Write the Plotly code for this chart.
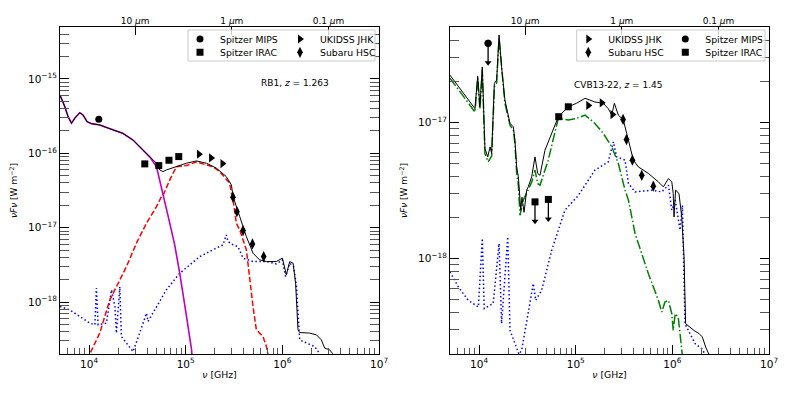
import math
import plotly.graph_objects as go

# ---------------- RB1, z = 1.263 (left panel) ----------------
rb1_total_nu = [5.0e3, 5.61e3, 6.07e3, 6.58e3, 7.11e3, 8.0e3, 8.67e3, 9.53e3, 1.06e4, 1.29e4,
                1.76e4, 2.23e4, 2.85e4, 3.34e4, 4.25e4, 4.98e4, 5.38e4, 5.82e4, 6.31e4, 7.34e4,
                8.67e4, 1.02e5, 1.29e5, 1.64e5, 2.08e5, 2.63e5, 2.97e5, 3.09e5, 3.62e5, 4.24e5,
                4.97e5, 5.82e5, 6.84e5, 8.67e5, 1.0e6, 1.10e6, 1.19e6, 1.29e6, 1.37e6, 1.45e6,
                1.51e6, 1.91e6, 2.25e6, 2.53e6, 2.74e6, 3.08e6, 3.33e6]
rb1_total = [6.09e-16, 4.25e-16, 3.11e-16, 2.54e-16, 2.96e-16, 3.52e-16, 3.28e-16, 2.67e-16, 2.51e-16, 2.41e-16,
             2.07e-16, 1.86e-16, 1.51e-16, 1.23e-16, 9.04e-17, 7.36e-17, 5.98e-17, 5.68e-17, 5.98e-17, 6.37e-17,
             6.98e-17, 7.36e-17, 7.91e-17, 7.36e-17, 6.31e-17, 4.86e-17, 3.76e-17, 2.62e-17, 1.41e-17, 7.59e-18,
             4.54e-18, 3.69e-18, 3.50e-18, 3.50e-18, 3.89e-18, 2.32e-18, 3.50e-18, 3.33e-18, 1.79e-18, 4.23e-19,
             3.89e-19, 3.82e-19, 3.62e-19, 3.10e-19, 2.40e-19, 2.28e-19, 2.01e-19]

rb1_dust_nu = [5.0e3, 5.61e3, 6.07e3, 6.58e3, 7.11e3, 8.0e3, 8.67e3, 9.53e3, 1.06e4, 1.29e4,
               1.76e4, 2.23e4, 2.85e4, 3.34e4, 4.25e4, 4.98e4, 5.38e4, 5.82e4, 6.84e4, 7.69e4,
               8.67e4, 1.02e5, 1.15e5, 1.18e5]
rb1_dust = [6.09e-16, 4.25e-16, 3.11e-16, 2.54e-16, 2.96e-16, 3.52e-16, 3.28e-16, 2.67e-16, 2.51e-16, 2.41e-16,
            2.07e-16, 1.86e-16, 1.51e-16, 1.23e-16, 8.9e-17, 6.62e-17, 4.39e-17, 2.76e-17, 1.15e-17, 5.87e-18,
            2.44e-18, 6.38e-19, 2.28e-19, 1.4e-19]

rb1_star_nu = [9.7e3, 1.02e4, 1.29e4, 1.64e4, 2.44e4, 3.09e4, 3.93e4, 4.98e4, 5.61e4, 5.82e4,
               6.84e4, 8.02e4, 1.02e5, 1.29e5, 1.64e5, 1.91e5, 2.25e5, 2.63e5, 2.85e5, 2.97e5,
               3.09e5, 3.34e5, 3.62e5, 4.24e5, 4.59e5, 4.97e5, 5.38e5, 6.30e5, 6.84e5, 7.10e5, 7.4e5]
rb1_star = [1.67e-19, 2.01e-19, 3.82e-19, 1.07e-18, 3.00e-18, 6.19e-18, 1.15e-17, 1.92e-17, 2.62e-17, 2.7e-17,
            4.39e-17, 6.62e-17, 6.84e-17, 7.66e-17, 6.98e-17, 6.62e-17, 5.68e-17, 4.39e-17, 3.96e-17, 2.91e-17,
            2.37e-17, 1.15e-17, 9.33e-18, 5.04e-18, 1.99e-18, 8.71e-19, 4.23e-19, 3.44e-19, 2.52e-19, 2.01e-19, 1.45e-19]

rb1_agn_nu = [5.0e3, 6.31e3, 8.02e3, 1.02e4, 1.15e4, 1.19e4, 1.24e4, 1.51e4, 1.71e4, 1.85e4,
              1.92e4, 2.08e4, 2.16e4, 2.44e4, 2.85e4, 3.34e4, 3.93e4, 4.07e4, 4.98e4, 6.31e4,
              8.67e4, 1.40e5, 1.91e5, 2.43e5, 2.63e5, 2.74e5, 3.09e5, 3.47e5, 3.92e5, 4.97e5,
              6.84e5, 8.67e5, 1.0e6, 1.08e6, 1.19e6, 1.31e6, 1.40e6, 1.51e6, 1.77e6, 2.16e6,
              2.43e6, 2.55e6]
rb1_agn = [8.71e-19, 7.85e-19, 6.38e-19, 5.20e-19, 4.94e-19, 1.54e-18, 4.94e-19, 5.20e-19, 1.46e-18, 8.71e-19,
           3.82e-19, 1.61e-18, 3.44e-19, 2.81e-19, 2.16e-19, 3.82e-19, 7.10e-19, 5.47e-19, 8.71e-19, 1.46e-18,
           2.44e-18, 4.09e-18, 5.04e-18, 5.87e-18, 8.0e-18, 6.50e-18, 5.87e-18, 5.57e-18, 3.89e-18, 3.50e-18,
           3.50e-18, 3.26e-18, 3.69e-18, 2.20e-18, 3.33e-18, 3.0e-18, 1.61e-18, 3.10e-19, 2.81e-19, 2.52e-19,
           2.01e-19, 1.58e-19]

rb1_mips_nu = [1.26e4]
rb1_mips = [2.87e-16]
rb1_irac_nu = [3.77e4, 5.26e4, 6.71e4, 8.47e4]
rb1_irac = [7.21e-17, 6.84e-17, 8.07e-17, 9.04e-17]
rb1_ukidss_nu = [1.37e5, 1.83e5, 2.40e5]
rb1_ukidss = [9.73e-17, 8.67e-17, 7.28e-17]
rb1_hsc_nu = [3.08e5, 3.39e5, 3.92e5, 4.90e5, 6.41e5]
rb1_hsc = [2.57e-17, 1.64e-17, 9.14e-18, 6.05e-18, 4.09e-18]

# ---------------- CVB13-22, z = 1.45 (right panel) ----------------
cvb_total_nu = [5.0e3, 9.07e3, 9.68e3, 1.02e4, 1.08e4, 1.15e4, 1.23e4, 1.30e4, 1.35e4, 1.44e4,
                1.52e4, 1.61e4, 1.71e4, 1.85e4, 2.09e4, 2.26e4, 2.35e4, 2.45e4, 2.55e4, 2.65e4,
                2.70e4, 2.78e4, 2.92e4, 3.11e4, 3.23e4, 3.50e4, 3.79e4, 4.04e4, 4.27e4, 4.81e4,
                5.64e4, 6.61e4, 8.38e4, 1.02e5, 1.25e5, 1.58e5, 1.93e5, 2.17e5, 2.36e5, 2.51e5,
                2.76e5, 3.11e5, 3.37e5, 3.65e5, 3.95e5, 4.45e5, 5.64e5, 7.16e5, 8.07e5, 9.10e5,
                9.86e5, 1.02e6, 1.04e6, 1.08e6, 1.17e6, 1.25e6, 1.32e6, 1.37e6, 1.49e6, 1.67e6,
                1.89e6, 2.04e6, 2.21e6, 2.39e6, 2.46e6]
cvb_total = [2.22e-17, 1.26e-17, 2.18e-17, 1.30e-17, 2.55e-17, 6.43e-18, 5.58e-18, 6.61e-18, 5.91e-18, 1.93e-17,
             2.04e-17, 4.37e-17, 2.55e-17, 1.46e-17, 9.82e-18, 9.27e-18, 7.40e-18, 4.71e-18, 3.98e-18, 2.69e-18,
             2.27e-18, 2.82e-18, 2.19e-18, 3.18e-18, 3.37e-18, 3.98e-18, 5.58e-18, 4.22e-18, 4.09e-18, 6.25e-18,
             8.29e-18, 1.10e-17, 1.30e-17, 1.38e-17, 1.50e-17, 1.41e-17, 1.38e-17, 1.26e-17, 1.13e-17, 1.38e-17,
             1.13e-17, 1.04e-17, 8.29e-18, 6.61e-18, 5.28e-18, 4.71e-18, 4.22e-18, 3.66e-18, 3.36e-18, 3.87e-18,
             3.66e-18, 3.01e-18, 2.02e-18, 3.18e-18, 3.01e-18, 2.02e-18, 1.03e-18, 3.34e-19, 3.16e-19, 2.98e-19,
             2.82e-19, 2.67e-19, 2.25e-19, 1.99e-19, 1.74e-19]

cvb_gal_nu = [5.0e3, 9.07e3, 9.68e3, 1.02e4, 1.08e4, 1.15e4, 1.24e4, 1.35e4, 1.44e4, 1.52e4,
              1.61e4, 1.71e4, 1.85e4, 2.09e4, 2.26e4, 2.35e4, 2.45e4, 2.55e4, 2.65e4, 2.87e4,
              3.11e4, 3.23e4, 3.50e4, 3.79e4, 4.04e4, 4.27e4, 5.20e4, 5.82e4, 6.61e4, 8.38e4,
              1.02e5, 1.25e5, 1.58e5, 1.93e5, 2.36e5, 2.76e5, 3.24e5, 3.51e5, 4.11e5, 5.64e5,
              7.16e5, 7.76e5, 8.39e5, 9.10e5, 9.86e5, 1.02e6, 1.07e6, 1.15e6, 1.20e6, 1.27e6, 1.30e6]
cvb_gal = [2.11e-17, 1.19e-17, 2.10e-17, 1.25e-17, 2.42e-17, 5.91e-18, 5.13e-18, 5.65e-18, 1.82e-17, 1.94e-17,
           4.13e-17, 2.42e-17, 1.38e-17, 9.54e-18, 8.77e-18, 7.04e-18, 4.22e-18, 3.46e-18, 2.08e-18, 2.69e-18,
           3.01e-18, 3.18e-18, 3.64e-18, 4.46e-18, 3.56e-18, 3.46e-18, 5.28e-18, 7.40e-18, 1.07e-17, 1.04e-17,
           1.07e-17, 1.13e-17, 9.82e-18, 8.29e-18, 6.61e-18, 4.99e-18, 3.18e-18, 2.69e-18, 1.53e-18, 7.78e-19,
           4.95e-19, 4.07e-19, 4.82e-19, 4.95e-19, 3.95e-19, 2.98e-19, 3.95e-19, 3.73e-19, 2.82e-19, 1.99e-19, 1.66e-19]

cvb_agn_nu = [5.0e3, 6.10e3, 7.73e3, 9.84e3, 1.08e4, 1.13e4, 1.40e4, 1.61e4, 1.71e4, 1.98e4,
              2.09e4, 2.35e4, 2.59e4, 2.76e4, 3.23e4, 3.64e4, 3.85e4, 4.44e4, 5.64e4, 7.73e4,
              1.06e5, 1.58e5, 2.17e5, 2.45e5, 2.65e5, 3.24e5, 3.51e5, 4.11e5, 6.12e5, 7.76e5,
              9.10e5, 9.86e5, 1.07e6, 1.20e6, 1.27e6, 1.35e6, 1.52e6, 1.72e6, 2.01e6, 2.18e6, 2.24e6]
cvb_agn = [8.0e-19, 6.21e-19, 4.95e-19, 4.42e-19, 1.41e-18, 4.31e-19, 4.69e-19, 1.29e-18, 3.34e-19, 1.45e-18,
           2.98e-19, 2.38e-19, 1.99e-19, 2.13e-19, 3.95e-19, 6.58e-19, 4.95e-19, 5.86e-19, 1.15e-18, 2.27e-18,
           2.9e-18, 4.46e-18, 5.13e-18, 7.19e-18, 5.58e-18, 5.28e-18, 3.56e-18, 3.09e-18, 3.18e-18, 3.09e-18,
           3.46e-18, 2.27e-18, 2.69e-18, 1.62e-18, 2.47e-18, 3.34e-19, 2.82e-19, 2.38e-19, 2.19e-19, 1.99e-19, 1.74e-19]

cvb_mips_nu = [1.24e4]          # upper limit
cvb_mips = [3.80e-17]
cvb_irac_ul_nu = [3.79e4, 5.21e4]   # upper limits
cvb_irac_ul = [2.61e-18, 2.72e-18]
cvb_irac_nu = [6.67e4, 8.38e4]
cvb_irac = [1.10e-17, 1.30e-17]
cvb_ukidss_nu = [1.35e5, 1.86e5, 2.40e5]
cvb_ukidss = [1.33e-17, 1.39e-17, 1.14e-17]
cvb_hsc_nu = [3.09e5, 3.35e5, 3.86e5, 4.82e5, 6.35e5]
cvb_hsc = [1.05e-17, 7.48e-18, 5.28e-18, 4.09e-18, 3.40e-18]

# tick labels
nu_ticks = [1e4, 1e5, 1e6, 1e7]
nu_tick_text = ["10<sup>4</sup>", "10<sup>5</sup>", "10<sup>6</sup>", "10<sup>7</sup>"]
flux_ticks = [1e-18, 1e-17, 1e-16, 1e-15]
flux_tick_text = ["10<sup>−18</sup>", "10<sup>−17</sup>", "10<sup>−16</sup>", "10<sup>−15</sup>"]
# top axis: wavelength marks (nu = c / lambda)
wl_tick_nu = [3e4, 3e5, 3e6]
wl_tick_text = ["10 <i>μ</i>m", "1 <i>μ</i>m", "0.1 <i>μ</i>m"]

ARROW = 0.72  # length of upper-limit arrows (fraction of flux)
FONT = "DejaVu Sans"
DOTTED = "1.5px,2.5px"
DASHED = "5.5px,2.4px"
DASHDOT = "9.6px,2.4px,1.5px,2.4px"

fig = go.Figure()


def line(nu, val, color, dash, width, xa, ya):
    fig.add_trace(go.Scatter(x=nu, y=val, mode="lines", xaxis=xa, yaxis=ya,
                             line=dict(color=color, dash=dash, width=width),
                             showlegend=False, hoverinfo="skip"))


def points(nu, val, symbol, size, name, legend, xa, ya):
    fig.add_trace(go.Scatter(x=nu, y=val, mode="markers", xaxis=xa, yaxis=ya, name=name,
                             marker=dict(symbol=symbol, size=size, color="black"),
                             legend=legend))


def upper_limits(nu, val, symbol, size, xa, ya):
    tips = [v * ARROW for v in val]
    fig.add_trace(go.Scatter(x=nu, y=val, mode="markers", xaxis=xa, yaxis=ya,
                             marker=dict(symbol=symbol, size=size, color="black"),
                             error_y=dict(type="data", symmetric=False, array=[0] * len(val),
                                          arrayminus=[v - t for v, t in zip(val, tips)],
                                          width=0, thickness=1.3, color="black"),
                             showlegend=False))
    fig.add_trace(go.Scatter(x=nu, y=tips, mode="markers", xaxis=xa, yaxis=ya,
                             marker=dict(symbol="triangle-down", size=6, color="black"),
                             showlegend=False, hoverinfo="skip"))


# left panel
line(rb1_agn_nu, rb1_agn, "#0000ff", DOTTED, 1.5, "x", "y")
line(rb1_star_nu, rb1_star, "#ff0000", DASHED, 1.5, "x", "y")
line(rb1_dust_nu, rb1_dust, "#bf00bf", "solid", 1.6, "x", "y")
line(rb1_total_nu, rb1_total, "black", "solid", 1.0, "x", "y")
points(rb1_mips_nu, rb1_mips, "circle", 7, "Spitzer MIPS", "legend", "x", "y")
points(rb1_irac_nu, rb1_irac, "square", 7, "Spitzer IRAC", "legend2", "x", "y")
points(rb1_ukidss_nu, rb1_ukidss, "triangle-right", 8, "UKIDSS JHK", "legend", "x", "y")
points(rb1_hsc_nu, rb1_hsc, "diamond-tall", 8, "Subaru HSC", "legend2", "x", "y")

# right panel
line(cvb_agn_nu, cvb_agn, "#0000ff", DOTTED, 1.5, "x2", "y2")
line(cvb_gal_nu, cvb_gal, "#008000", DASHDOT, 1.5, "x2", "y2")
line(cvb_total_nu, cvb_total, "black", "solid", 1.0, "x2", "y2")
points(cvb_ukidss_nu, cvb_ukidss, "triangle-right", 8, "UKIDSS JHK", "legend3", "x2", "y2")
points(cvb_hsc_nu, cvb_hsc, "diamond-tall", 8, "Subaru HSC", "legend4", "x2", "y2")
points(cvb_mips_nu, cvb_mips, "circle", 7, "Spitzer MIPS", "legend3", "x2", "y2")
points(cvb_irac_nu, cvb_irac, "square", 7, "Spitzer IRAC", "legend4", "x2", "y2")
upper_limits(cvb_mips_nu, cvb_mips, "circle", 7, "x2", "y2")
upper_limits(cvb_irac_ul_nu, cvb_irac_ul, "square", 7, "x2", "y2")

# invisible traces so the top wavelength axes are drawn
fig.add_trace(go.Scatter(x=rb1_mips_nu, y=rb1_mips, xaxis="x3", yaxis="y", mode="markers",
                         marker=dict(opacity=0), showlegend=False, hoverinfo="skip"))
fig.add_trace(go.Scatter(x=cvb_mips_nu, y=cvb_mips, xaxis="x4", yaxis="y2", mode="markers",
                         marker=dict(opacity=0), showlegend=False, hoverinfo="skip"))

# log minor tick positions (2..9 within each decade)
minor_vals = [d * 10.0 ** e for e in range(-20, 8) for d in range(2, 10)]

xr = [math.log10(5000), 7]
common = dict(type="log", showgrid=False, zeroline=False, showline=True, linecolor="black",
              linewidth=1, ticks="inside", ticklen=9, tickcolor="black",
              tickfont=dict(size=10.5, color="black"), automargin=False,
              minor=dict(ticks="inside", ticklen=5.5, tickmode="array", tickvals=minor_vals,
                         tickcolor="#555", showgrid=False))
xcommon = dict(common, range=xr, mirror=True, tickmode="array", tickvals=nu_ticks, ticktext=nu_tick_text,
               title=dict(text="<i>ν</i> [GHz]", font=dict(size=9.3), standoff=2))
ycommon = dict(common, mirror="allticks", tickmode="array", tickvals=flux_ticks, ticktext=flux_tick_text,
               title=dict(text="<i>νFν</i> [W m<sup>−2</sup>]", font=dict(size=9), standoff=8))
top = dict(type="log", range=xr, side="top", showgrid=False, zeroline=False, showline=False,
           ticks="inside", ticklen=8, tickcolor="black", tickmode="array",
           tickvals=wl_tick_nu, ticktext=wl_tick_text,
           tickfont=dict(size=9, color="black"), automargin=False)

ydom = [0.1038, 0.9316]
fig.update_layout(
    width=789, height=395, margin=dict(l=0, r=0, t=0, b=0),
    paper_bgcolor="white", plot_bgcolor="white",
    font=dict(family=FONT, color="black"),
    xaxis=dict(xcommon, domain=[0.0760, 0.4804], anchor="y"),
    yaxis=dict(ycommon, domain=ydom, anchor="x", range=[math.log10(2e-19), math.log10(5e-15)]),
    xaxis2=dict(xcommon, domain=[0.5703, 0.9747], anchor="y2"),
    yaxis2=dict(ycommon, domain=ydom, anchor="x2", range=[math.log10(2e-19), math.log10(5e-17)]),
    xaxis3=dict(top, overlaying="x", anchor="y"),
    xaxis4=dict(top, overlaying="x2", anchor="y2"),
    shapes=[
        dict(type="rect", xref="paper", yref="paper", x0=0.2383, x1=0.4753, y0=0.8456, y1=0.9241,
             line=dict(color="#cccccc", width=1), fillcolor="rgba(255,255,255,0.8)", layer="above"),
        dict(type="rect", xref="paper", yref="paper", x0=0.7309, x1=0.9696, y0=0.8456, y1=0.9241,
             line=dict(color="#cccccc", width=1), fillcolor="rgba(255,255,255,0.8)", layer="above"),
    ],
    annotations=[
        dict(text="RB1, <i>z</i> = 1.263", xref="paper", yref="paper", x=0.3739, y=0.8084,
             showarrow=False, font=dict(size=9)),
        dict(text="CVB13-22, <i>z</i> = 1.45", xref="paper", yref="paper", x=0.8428, y=0.8033,
             showarrow=False, font=dict(size=9)),
    ],
)

leg = dict(orientation="h", xanchor="left", yanchor="middle", bgcolor="rgba(0,0,0,0)",
           borderwidth=0, font=dict(size=9.3, color="black"), itemwidth=30)
fig.update_layout(
    legend=dict(leg, x=180 / 789, y=1 - 39 / 395, entrywidth=55),
    legend2=dict(leg, x=180 / 789, y=1 - 52.3 / 395, entrywidth=55),
    legend3=dict(leg, x=568.3 / 789, y=1 - 39 / 395, entrywidth=52),
    legend4=dict(leg, x=568.3 / 789, y=1 - 52.3 / 395, entrywidth=52),
)

# the page body has a default 8px margin; remove it so the figure sits at the window origin
fig.write_html("out.html", config={"displayModeBar": False},
               post_script="document.body.style.margin='0px';")
